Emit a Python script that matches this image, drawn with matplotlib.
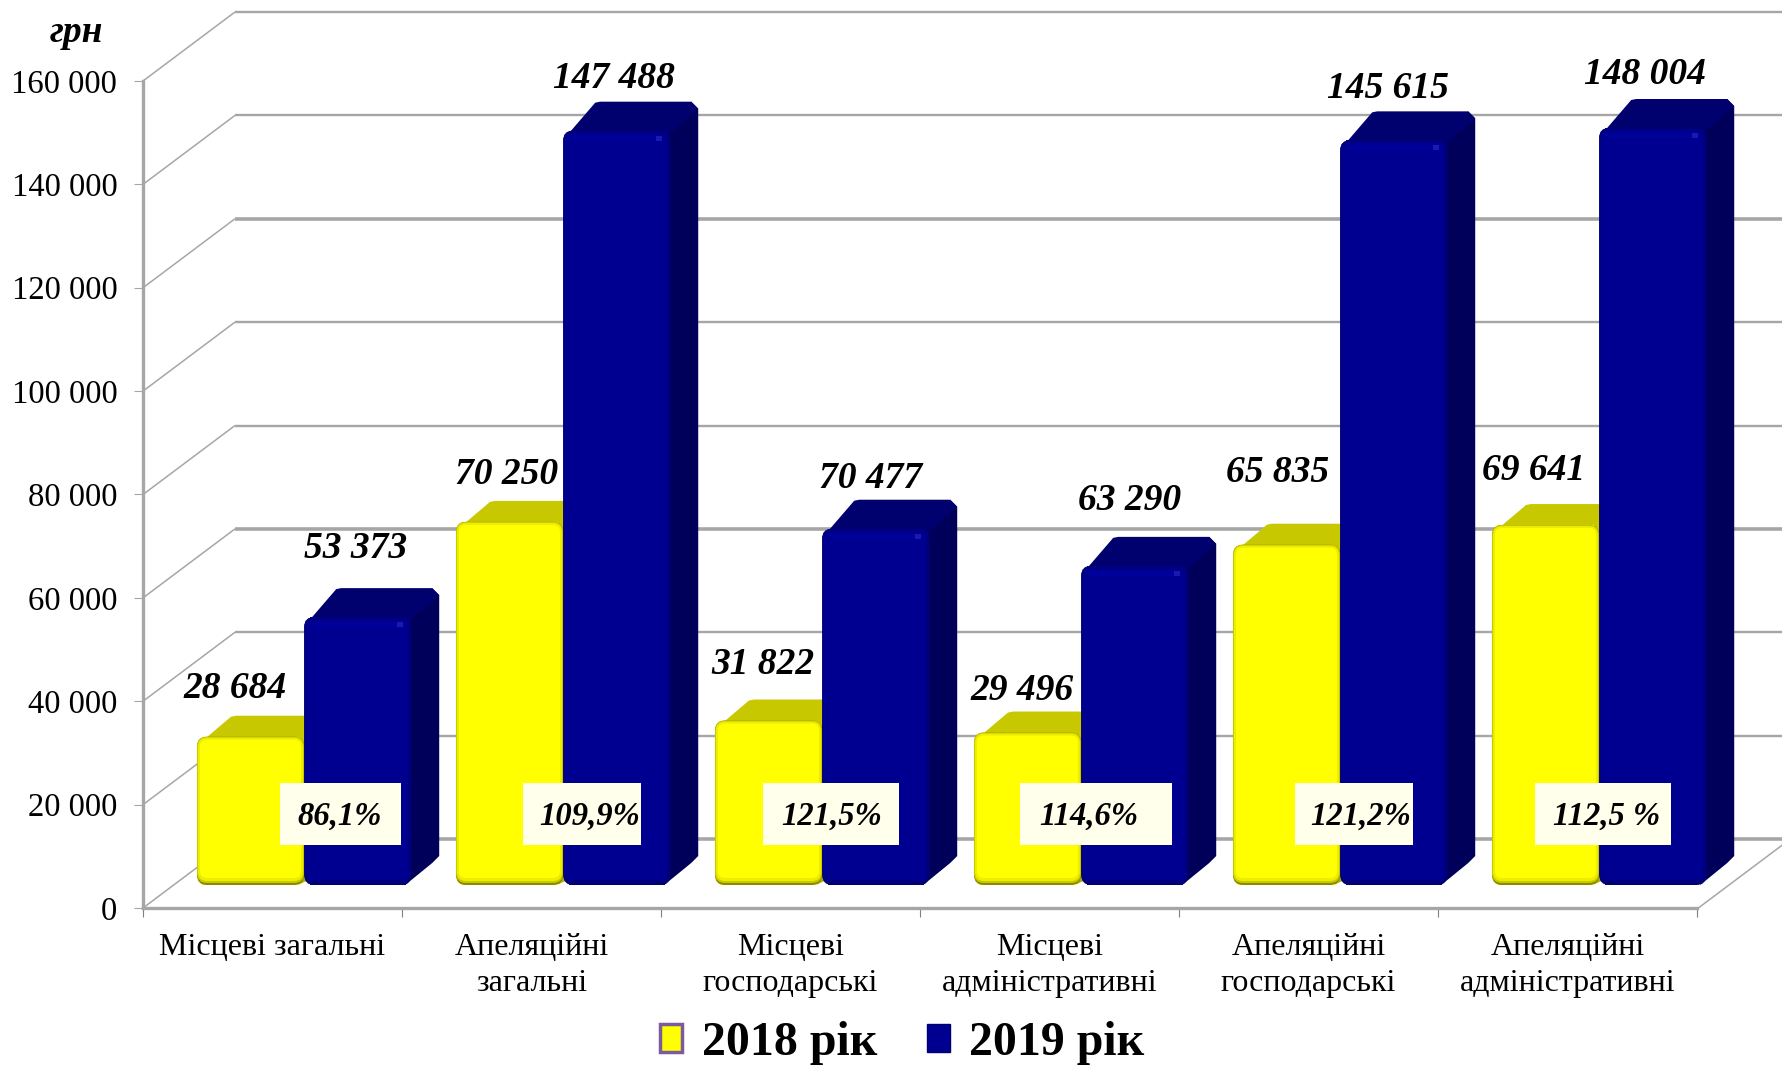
import matplotlib
matplotlib.use("Agg")
import matplotlib.pyplot as plt
from matplotlib.patches import FancyBboxPatch, Polygon, Rectangle, Patch
from matplotlib.transforms import Affine2D
from matplotlib.ticker import FuncFormatter

categories = ["Місцеві загальні", "Апеляційні\nзагальні", "Місцеві\nгосподарські",
              "Місцеві\nадміністративні", "Апеляційні\nгосподарські", "Апеляційні\nадміністративні"]
values_2018 = [28684, 70250, 31822, 29496, 65835, 69641]
values_2019 = [53373, 147488, 70477, 63290, 145615, 148004]
labels_2018 = ["28 684", "70 250", "31 822", "29 496", "65 835", "69 641"]
labels_2019 = ["53 373", "147 488", "70 477", "63 290", "145 615", "148 004"]
percents = ["86,1%", "109,9%", "121,5%", "114,6%", "121,2%", "112,5 %"]
series_names = ["2018 рік", "2019 рік"]
y_ticks = [0, 20000, 40000, 60000, 80000, 100000, 120000, 140000, 160000]
unit = "грн"

# ---- layout (image pixels, y down) ----
W, H = 1783, 1066
AX_L, AX_R, AX_T, AX_B = 143, 1697, 81, 908
WALL_DX, WALL_DY = 92, 69
BASE_LIFT = 23
thick_lines = {120000, 60000, 0}
label_pos_2018 = [(235, 688), (507, 475), (763, 665), (1022, 690), (1278, 473), (1534, 470)]
label_pos_2019 = [(356, 549), (614, 78), (871, 478), (1130, 500), (1388, 88), (1645, 74)]
pct_boxes = [(280, 401), (523, 641), (763, 899), (1020, 1172), (1295, 1413), (1535, 1671)]
pct_centers = [340, 590, 832, 1089, 1361, 1607]
PCT_T, PCT_B = 783, 845
GRID = "#A6A6A6"

plt.rcParams["font.family"] = ["Liberation Serif", "DejaVu Serif"]
fig = plt.figure(figsize=(W / 100, H / 100), dpi=100)
ax = fig.add_axes([AX_L / W, 1 - AX_B / H, (AX_R - AX_L) / W, (AX_B - AX_T) / H])
ax.set_xlim(0, 6)
ax.set_ylim(0, 160000)
ax.patch.set_alpha(0)
T = Affine2D().scale(1, -1).translate(0, H)


def px(x, y):
    u, v = ax.transData.transform((x, y))
    return u, H - v


def line(xs, ys, lw, color=GRID, z=1):
    ax.plot(xs, ys, transform=T, color=color, lw=lw, clip_on=False, zorder=z, solid_capstyle="butt")


# walls
for v in y_ticks:
    _, yy = px(0, v)
    lw = 2.6 if v in thick_lines else 1.7
    line([AX_L, AX_L + WALL_DX], [yy, yy - WALL_DY], 1.1)
    line([AX_L + WALL_DX, W], [yy - WALL_DY, yy - WALL_DY], lw)
line([AX_R, W], [AX_B + 1, AX_B + 1 - (W - AX_R) * WALL_DY / WALL_DX], 1.1)

for s in ("top", "right"):
    ax.spines[s].set_visible(False)
for s in ("left", "bottom"):
    ax.spines[s].set_color(GRID)
    ax.spines[s].set_linewidth(2.4)
ax.set_yticks(y_ticks)
ax.yaxis.set_major_formatter(FuncFormatter(lambda v, _: f"{int(v):,}".replace(",", " ")))
ax.tick_params(axis="y", labelsize=23.5, length=6.5, width=0.8, color=GRID, pad=12)
ax.set_xticks(range(7))
ax.set_xticklabels([])
ax.tick_params(axis="x", which="major", length=6.5, width=0.8, color="#808080")
ax.set_xticks([i + 0.5 for i in range(6)], minor=True)
ax.set_xticklabels(categories, minor=True, fontsize=23, linespacing=1.32)
ax.tick_params(axis="x", which="minor", length=0, pad=18)

# bars
BAR_W = 107 / 259
scale_y = 160000 / (AX_B - AX_T)
base_units = BASE_LIFT * scale_y
x_2018 = [i + 0.415 for i in range(6)]
x_2019 = [i + 0.829 for i in range(6)]
Y_FRONT, Y_TOP, Y_SIDE = "#FFFF00", "#C8C800", "#B0B000"
B_FRONT, B_TOP, B_SIDE = "#000090", "#00006E", "#00005A"


def rounded(x0, y0, x1, y1, r, color, z):
    ax.add_patch(FancyBboxPatch((x0 + r, y0 + r), x1 - x0 - 2 * r, y1 - y0 - 2 * r,
                                boxstyle=f"round,pad={r},rounding_size={r}", fc=color, ec="none",
                                transform=T, clip_on=False, zorder=z))


def poly(points, color, z):
    ax.add_patch(Polygon(points, closed=True, fc=color, ec="none", transform=T, clip_on=False, zorder=z))


def bar_3d(x, top_value, kind, z):
    lower_front = 0 if kind == 0 else 8
    dx, dy = (30, 21) if kind == 0 else (28, 29)
    height = top_value - lower_front * scale_y
    ax.bar(x, height, BAR_W * 0.9, bottom=base_units, zorder=z,
           color=Y_FRONT if kind == 0 else B_FRONT, label=None)
    x0, yb = px(x - BAR_W / 2, base_units)
    x1, yt = px(x + BAR_W / 2, base_units + height)
    side, top = (Y_SIDE, Y_TOP) if kind == 0 else (B_SIDE, B_TOP)
    poly([(x1 - 6, yt + 2), (x1 + dx - 7, yt - dy), (x1 + dx, yt - dy + 7), (x1 + dx, yb - dy),
          (x1 + dx - 7, yb - dy + 7), (x1 - 6, yb)], side, z - 0.3)
    poly([(x0 + 1, yt + 8), (x0 + dx + 4, yt - dy + 1), (x0 + dx + 9, yt - dy),
          (x1 + dx - 7, yt - dy), (x1 + dx, yt - dy + 7), (x1 - 6, yt + 8)], top, z - 0.2)
    if kind == 0:
        layers = [(0, 0, 0, "#8A8A00"), (0, 0, 2, "#C9C900"), (1, 1, 4, "#EDED00"), (3, 3, 7, Y_FRONT)]
    else:
        layers = [(0, 0, 0, "#00006E"), (0, 0, 2, "#000080"), (2, 3, 5, B_FRONT)]
    for ins, ins_t, insb, col in layers:
        rounded(x0 + ins, yt + ins_t, x1 - ins, yb - insb, max(10 - ins, 4), col, z + 0.1)
    if kind == 1:
        ax.add_patch(Rectangle((x0 + 8, yt + 5), x1 - x0 - 18, 5, fc="#00009A", ec="none",
                               transform=T, clip_on=False, zorder=z + 0.2))
        ax.add_patch(Rectangle((x1 - 14, yt + 5), 6, 5, fc="#1A1AB0", ec="none",
                               transform=T, clip_on=False, zorder=z + 0.3))
        ax.add_patch(Rectangle((x1 - 3, yt + 6), 3, yb - yt - 12, fc="#00007C", ec="none",
                               transform=T, clip_on=False, zorder=z + 0.15))


for i in range(6):
    bar_3d(x_2018[i], values_2018[i], 0, 3 + i * 2)
    bar_3d(x_2019[i], values_2019[i], 1, 4 + i * 2)

# value labels
for (px_x, px_y), s in zip(label_pos_2018 + label_pos_2019, labels_2018 + labels_2019):
    ax.text(px_x, px_y, s, transform=T, ha="center", va="center", fontsize=27,
            fontweight="bold", fontstyle="italic", color="black", clip_on=False, zorder=30)

# percentage boxes
for (x0, x1), cx, s in zip(pct_boxes, pct_centers, percents):
    ax.add_patch(Rectangle((x0, PCT_T), x1 - x0, PCT_B - PCT_T, fc="#FFFFEC", ec="none",
                           transform=T, clip_on=False, zorder=28))
    ax.text(cx, 816, s, transform=T, ha="center", va="center", fontsize=23.5,
            fontweight="bold", fontstyle="italic", clip_on=False, zorder=30)

ax.text(76, 33, unit, transform=T, ha="center", va="center", fontsize=27,
        fontweight="bold", fontstyle="italic", clip_on=False)

# legend
handles = [Patch(fc=Y_FRONT, ec="#7B5AA0", lw=2.5), Patch(fc=B_FRONT, ec="#000070", lw=1)]
fig.legend(handles, series_names, loc="center", bbox_to_anchor=(902 / W, 1 - 1043 / H), ncol=2,
           frameon=False, handlelength=0.47, handleheight=0.5, handletextpad=0.4, columnspacing=1.05,
           prop={"size": 34.5, "weight": "bold"}, borderpad=0, borderaxespad=0)

fig.savefig("out.png", dpi=100, facecolor="white")
